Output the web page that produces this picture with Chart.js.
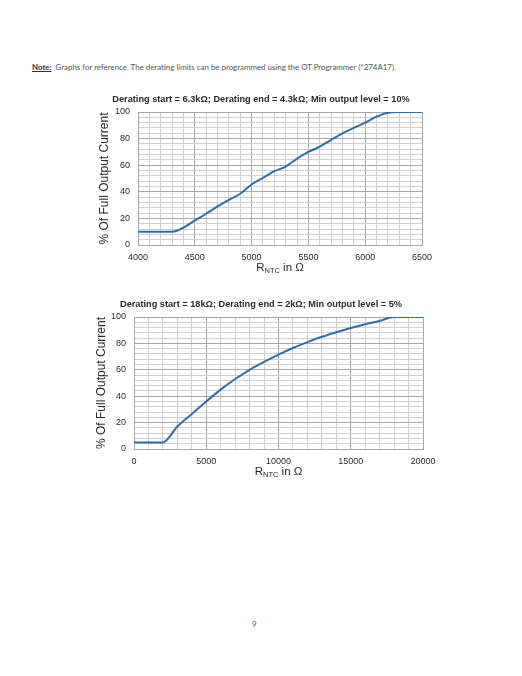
<!DOCTYPE html>
<html>
<head>
<meta charset="utf-8">
<script src="https://cdn.jsdelivr.net/npm/chart.js@4.4.1/dist/chart.umd.min.js"></script>
<style>
  body { margin: 0; width: 522px; height: 676px; background: #fff; position: relative; overflow: hidden; }
  .note { position: absolute; left: 32px; top: 62px; font: 7.9px Lato, "Noto Sans", sans-serif; color: #555; white-space: nowrap; }
  .note b { text-decoration: underline; color: #333; }
  .page { position: absolute; left: 252px; top: 619px; font: 8px Lato, sans-serif; color: #555; }
  canvas { position: absolute; left: 0; }
</style>
</head>
<body>
<div class="note"><b>Note:</b>&nbsp; Graphs for reference. The derating limits can be programmed using the OT Programmer (*274A17).</div>
<canvas id="chart-top" width="522" height="195" style="top:85px"></canvas>
<canvas id="chart-bottom" width="522" height="195" style="top:290px"></canvas>
<div class="page">9</div>
<script>
// chart 1: 6.3k / 4.3k / 10%
const rntcTop = [4000, 4100, 4200, 4300, 4400, 4500, 4600, 4700, 4800, 4900, 5000, 5100, 5200,
                 5300, 5400, 5500, 5600, 5700, 5800, 5900, 6000, 6100, 6200, 6300, 6400, 6500];
const outputTop = [10, 10, 10, 10, 13, 18.5, 23.5, 29, 34, 38.5, 45.5, 50.5, 55.5,
                   59, 65, 70, 74, 79, 84, 88, 92, 96.5, 99.5, 100, 100, 100];

// chart 2: 18k / 2k / 5%
const rntcBottom = [0, 1000, 2000, 3000, 4000, 5000, 6000, 7000, 8000, 9000, 10000,
                    11000, 12000, 13000, 14000, 15000, 16000, 17000, 18000, 19000, 20000];
const outputBottom = [5, 5, 5, 17, 26.5, 36, 45, 53, 60, 66, 71.5,
                      76.5, 81, 85, 88.5, 91.7, 94.5, 97, 100, 100, 100];

const titleTop = 'Derating start = 6.3k\u03A9; Derating end = 4.3k\u03A9; Min output level = 10%';
const titleBottom = 'Derating start = 18k\u03A9; Derating end = 2k\u03A9; Min output level = 5%';
const yTitle = '% Of Full Output Current';

const FONT = '"Liberation Sans", Arial, sans-serif';

const pageText = {
    id: 'pageText',
    afterDraw(chart, args, opts) {
        const { ctx, chartArea } = chart;
        ctx.save();
        ctx.fillStyle = '#2a2a2a';
        ctx.textBaseline = 'middle';
        ctx.textAlign = 'center';
        ctx.font = 'bold 9.2px ' + FONT;
        ctx.fillText(opts.title, 261, opts.titleY);

        // x axis title with subscript
        const big = '11.5px ' + FONT, small = '7.5px ' + FONT;
        ctx.font = big;
        const wR = ctx.measureText('R').width;
        const wIn = ctx.measureText(' in \u03A9').width;
        ctx.font = small;
        const wSub = ctx.measureText('NTC').width;
        let x = (chartArea.left + chartArea.right) / 2 - (wR + wSub + wIn) / 2;
        const y = chartArea.bottom + opts.xTitleOffset;
        ctx.textAlign = 'left';
        ctx.font = big;
        ctx.fillText('R', x, y);
        x += wR;
        ctx.font = small;
        ctx.fillText('NTC', x, y + 3);
        x += wSub;
        ctx.font = big;
        ctx.fillText(' in \u03A9', x, y);
        ctx.restore();
    }
};

function makeChart(id, xs, ys, opt) {
    const points = xs.map((x, i) => ({ x: x, y: ys[i] }));
    return new Chart(document.getElementById(id), {
        type: 'line',
        data: {
            datasets: [{
                data: points,
                borderColor: '#2f6da6',
                borderWidth: 2,
                pointRadius: 0,
                cubicInterpolationMode: 'monotone',
                fill: false
            }]
        },
        plugins: [pageText],
        options: {
            responsive: false,
            animation: false,
            layout: { padding: { left: opt.padLeft, right: opt.padRight, top: 27, bottom: 0 } },
            plugins: {
                legend: { display: false },
                tooltip: { enabled: false },
                pageText: { title: opt.title, titleY: 14, xTitleOffset: 23 }
            },
            scales: {
                x: {
                    type: 'linear',
                    min: opt.xMin,
                    max: opt.xMax,
                    afterFit: (s) => { s.height = opt.xHeight; },
                    grid: {
                        drawTicks: false,
                        color: (c) => (c.tick && c.tick.value % opt.xMajor === 0) ? '#a8a8a8' : '#d0d0d0',
                        lineWidth: 1
                    },
                    border: { color: '#a8a8a8' },
                    ticks: {
                        stepSize: opt.xStep,
                        autoSkip: false,
                        maxRotation: 0,
                        padding: 7,
                        color: '#2a2a2a',
                        font: { family: FONT, size: 9 },
                        callback: (v) => v % opt.xMajor === 0 ? String(v) : ''
                    }
                },
                y: {
                    min: 0,
                    max: 100,
                    afterFit: (s) => { s.width = opt.yWidth; },
                    grid: {
                        drawTicks: false,
                        color: (c) => (c.tick && c.tick.value % 20 === 0) ? '#a8a8a8' : '#d0d0d0',
                        lineWidth: 1
                    },
                    border: { color: '#a8a8a8' },
                    ticks: {
                        stepSize: 4,
                        autoSkip: false,
                        padding: 8,
                        color: '#2a2a2a',
                        font: { family: FONT, size: 9 },
                        callback: (v) => v % 20 === 0 ? String(v) : ''
                    },
                    title: {
                        display: true,
                        text: yTitle,
                        color: '#2a2a2a',
                        padding: { top: 1, bottom: 2 },
                        font: { family: FONT, size: 12 }
                    }
                }
            }
        }
    });
}

makeChart('chart-top', rntcTop, outputTop, {
    title: titleTop, padLeft: 96, padRight: 100, yWidth: 42, xHeight: 35,
    xMin: 4000, xMax: 6500, xStep: 100, xMajor: 500
});

makeChart('chart-bottom', rntcBottom, outputBottom, {
    title: titleBottom, padLeft: 93, padRight: 99, yWidth: 41, xHeight: 36,
    xMin: 0, xMax: 20000, xStep: 1000, xMajor: 5000
});
</script>
</body>
</html>
